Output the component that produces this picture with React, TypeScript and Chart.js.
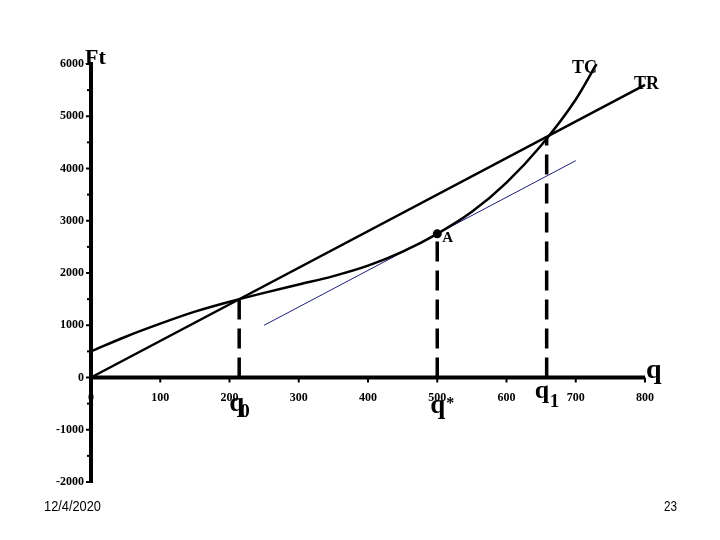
import { useEffect, useRef } from 'react';
import { Chart, registerables } from 'chart.js';
Chart.register(...registerables);

// revenue / cost curves (q, Ft)
const trQ = [0, 800];
const trV = [0, 5600];
const tcQ = [0, 50, 100, 150, 200, 250, 300, 350, 400, 450, 500, 550, 600, 650, 700, 730];
const tcV = [500, 780, 1030, 1260, 1450, 1620, 1780, 1940, 2140, 2410, 2750, 3170, 3730, 4440, 5320, 6000];
// tangent at A, parallel to TR
const tanQ = [250, 700];
const tanV = [1000, 4150];
// point A
const aQ = [500];
const aV = [2750];
// dashed drop lines q0, q*, q1
const dropQ = [214, 500, 658];
const dropV = [1500, 2750, 4620];

const xTicks = [0, 100, 200, 300, 400, 500, 600, 700, 800];
const yTicks = [-2000, -1000, 0, 1000, 2000, 3000, 4000, 5000, 6000];
const yMinor = [-1500, -500, 500, 1500, 2500, 3500, 4500, 5500];

const SERIF = '"Liberation Serif", "Times New Roman", serif';
const NARROW = '15px "Liberation Sans Narrow", "Liberation Sans", sans-serif';

const pts = (qs: number[], vs: number[]) => qs.map((q, i) => ({ x: q, y: vs[i] }));

// draw text squeezed to a given width (slide footer uses a condensed face)
const fitText = (ctx: any, s: string, x: number, y: number, w: number) => {
  const m = ctx.measureText(s).width;
  ctx.save();
  ctx.translate(x, y);
  ctx.scale(w / m, 1);
  ctx.fillText(s, 0, 0);
  ctx.restore();
};

const slidePlugin = {
  id: 'slide',
  beforeDatasetsDraw(chart: any) {
    const { ctx } = chart;
    const xs = chart.scales.x;
    const ys = chart.scales.y;
    const x0 = xs.getPixelForValue(0);
    const y0 = ys.getPixelForValue(0);
    ctx.save();
    ctx.strokeStyle = '#000';
    ctx.fillStyle = '#000';
    ctx.lineWidth = 4;
    ctx.beginPath();
    ctx.moveTo(x0, ys.getPixelForValue(6000) - 2);
    ctx.lineTo(x0, ys.getPixelForValue(-2000) + 1);
    ctx.moveTo(x0, y0);
    ctx.lineTo(xs.getPixelForValue(800), y0);
    ctx.stroke();

    ctx.lineWidth = 2;
    ctx.font = 'bold 12px ' + SERIF;
    ctx.textAlign = 'right';
    ctx.textBaseline = 'middle';
    yTicks.forEach((v) => {
      const p = ys.getPixelForValue(v);
      ctx.beginPath();
      ctx.moveTo(x0 - 5, p);
      ctx.lineTo(x0, p);
      ctx.stroke();
      ctx.fillText(String(v), x0 - 7, p);
    });
    yMinor.forEach((v) => {
      const p = ys.getPixelForValue(v);
      ctx.fillRect(x0 - 4, p - 1, 3, 2);
    });
    ctx.textAlign = 'center';
    xTicks.forEach((v) => {
      const p = xs.getPixelForValue(v);
      ctx.beginPath();
      ctx.moveTo(p, y0);
      ctx.lineTo(p, y0 + 5);
      ctx.stroke();
      ctx.fillText(String(v), p, y0 + 20);
    });
    ctx.restore();
  },
  afterDatasetsDraw(chart: any) {
    const { ctx } = chart;
    const xs = chart.scales.x;
    const ys = chart.scales.y;
    const x0 = xs.getPixelForValue(0);
    const y0 = ys.getPixelForValue(0);
    ctx.save();
    ctx.fillStyle = '#000';
    ctx.textAlign = 'left';
    ctx.textBaseline = 'alphabetic';

    ctx.font = 'bold 22px ' + SERIF;
    ctx.fillText('Ft', x0 - 6, ys.getPixelForValue(6000));

    ctx.font = 'bold 28px ' + SERIF;
    ctx.fillText('q', xs.getPixelForValue(800) + 1, y0);

    // q0
    const pq0 = xs.getPixelForValue(dropQ[0]);
    ctx.font = 'bold 27px ' + SERIF;
    ctx.fillText('q', pq0 - 10, y0 + 33);
    ctx.font = 'bold 19px ' + SERIF;
    ctx.fillText('0', pq0 + 1, y0 + 39);

    // q*
    const pqs = xs.getPixelForValue(dropQ[1]);
    ctx.font = 'bold 27px ' + SERIF;
    ctx.fillText('q', pqs - 7, y0 + 35);
    ctx.font = 'bold 16px ' + SERIF;
    ctx.fillText('*', pqs + 9, y0 + 30);

    // q1
    const pq1 = xs.getPixelForValue(dropQ[2]);
    ctx.font = 'bold 26px ' + SERIF;
    ctx.fillText('q', pq1 - 12, y0 + 20);
    ctx.font = 'bold 19px ' + SERIF;
    ctx.fillText('1', pq1 + 3, y0 + 29);

    // curve names
    ctx.font = 'bold 18px ' + SERIF;
    ctx.fillText('TC', 572, 73);
    ctx.fillText('TR', 634, 89);

    ctx.font = 'bold 15px ' + SERIF;
    ctx.fillText('A', xs.getPixelForValue(aQ[0]) + 5, ys.getPixelForValue(aV[0]) + 8);

    // slide footer
    ctx.font = NARROW;
    fitText(ctx, '12/4/2020', 44, 511, 57);
    fitText(ctx, '23', 664, 511, 13);
    ctx.restore();
  },
};

const App = () => {
  const canvas = useRef<HTMLCanvasElement>(null);
  useEffect(() => {
    const dash = { borderColor: '#000', borderWidth: 3.5, borderDash: [20, 9], pointRadius: 0 };
    const chart = new Chart(canvas.current as HTMLCanvasElement, {
      type: 'line',
      data: {
        datasets: [
          { data: pts(trQ, trV), borderColor: '#000', borderWidth: 2.5, pointRadius: 0, clip: false },
          {
            data: pts(tcQ, tcV),
            borderColor: '#000',
            borderWidth: 2.5,
            pointRadius: 0,
            cubicInterpolationMode: 'monotone',
            clip: false,
          },
          { data: pts(tanQ, tanV), borderColor: '#1e1e7a', borderWidth: 1, pointRadius: 0 },
          ...dropQ.map((q, i) => ({ ...dash, data: [{ x: q, y: 0 }, { x: q, y: dropV[i] }] })),
          {
            data: pts(aQ, aV),
            showLine: false,
            pointRadius: 4.5,
            pointBackgroundColor: '#000',
            pointBorderWidth: 0,
          },
        ] as any,
      },
      options: {
        animation: false,
        responsive: true,
        maintainAspectRatio: false,
        layout: { padding: { left: 91, right: 75, top: 64, bottom: 58 } },
        scales: {
          x: { type: 'linear', min: 0, max: 800, display: false },
          y: { type: 'linear', min: -2000, max: 6000, display: false },
        },
        plugins: { legend: { display: false }, tooltip: { enabled: false } },
      },
      plugins: [slidePlugin],
    });
    return () => chart.destroy();
  }, []);
  return (
    <div style={{ position: 'absolute', left: 0, top: 0, width: 720, height: 540, background: '#fff' }}>
      <canvas ref={canvas}></canvas>
    </div>
  );
};

export default App;
